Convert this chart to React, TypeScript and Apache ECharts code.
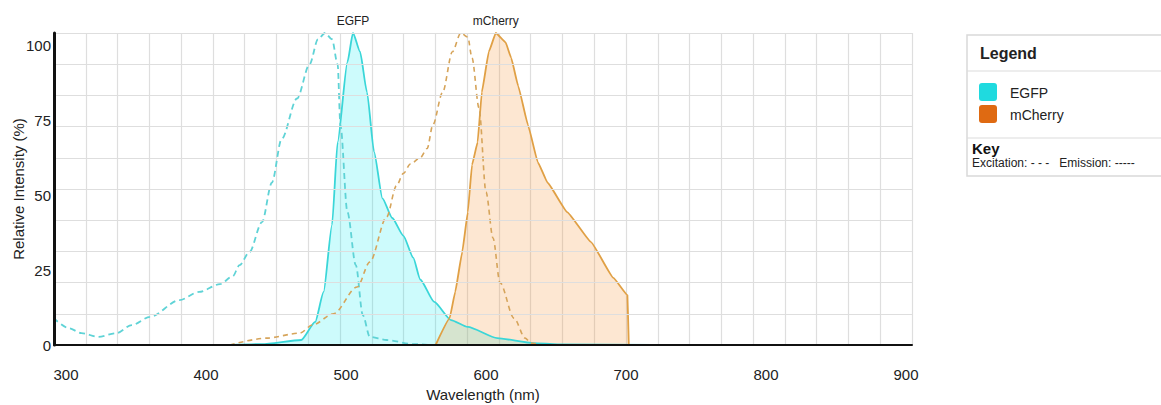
import React, { useEffect, useRef } from "react";
import * as echarts from "echarts";

// EGFP excitation (dashed)
const egfpExWl = [291, 302, 311, 323, 336, 347, 360, 381, 395, 410, 419, 424, 431, 440, 447, 454, 465, 474, 480, 485, 490, 494, 496, 501, 507, 512, 517, 529, 548, 560];
const egfpExVal = [8.7, 5.4, 3.8, 2.6, 3.8, 6.4, 9, 14.4, 17, 19.5, 22, 25.6, 29.8, 39.4, 52, 66, 79, 90, 98, 100, 98, 90, 70.5, 42.6, 25.6, 9.6, 2.6, 1.6, 0.3, 0];

// EGFP emission (solid, filled)
const egfpEmWl = [417, 440, 468, 478, 484, 490, 494, 501, 505, 510, 515, 520, 526, 533, 541, 548, 553, 563, 575, 587, 608, 634, 651, 720];
const egfpEmVal = [0, 0.3, 1.6, 7.4, 17, 38.5, 65, 90.7, 100, 94, 81, 62, 47, 40.7, 35, 28, 21, 13.8, 8, 5.8, 2.2, 0.6, 0.2, 0];

// mCherry excitation (dashed)
const mchExWl = [417, 443, 467, 476, 491, 508, 517, 529, 536, 541, 546, 553, 558, 562, 569, 576, 582, 587, 590, 595, 600, 605, 610, 620, 628, 632, 640];
const mchExVal = [0, 2.2, 3.8, 6.4, 10, 18.6, 26.6, 41, 51, 55, 58, 60, 63, 70.5, 81, 94, 100, 98.7, 92, 76, 49, 34.3, 20, 8.6, 2.2, 0.6, 0];

// mCherry emission (solid, filled)
const mchEmWl = [564, 574, 578, 583, 587, 590, 594, 597, 602, 607, 614, 618, 623, 630, 637, 644, 658, 675, 691, 701, 702];
const mchEmVal = [0, 8.6, 17, 29.8, 42.6, 57.7, 65, 81, 94, 100, 97, 92, 83, 70.5, 58.6, 52, 42.6, 33, 21.5, 16, 0];

const yTickLabels = [0, 25, 50, 75, 100];
const xTickLabels = [300, 400, 500, 600, 700, 800, 900];
const legendItems = ["EGFP", "mCherry"];

const zip = (a: number[], b: number[]) => a.map((x, i) => [x, b[i]]);

const FONT = "'Liberation Sans', Arial, sans-serif";

export default function App() {
  const ref = useRef<HTMLDivElement>(null);

  useEffect(() => {
    document.body.style.margin = "0";
    if (!ref.current) return;
    const chart = echarts.init(ref.current, undefined, { renderer: "svg" });

    const peakLabel = (name: string) => ({
      symbol: "circle",
      symbolSize: 1,
      itemStyle: { color: "rgba(0,0,0,0)" },
      label: {
        show: true,
        position: "top",
        distance: 6,
        formatter: name,
        color: "#222",
        fontSize: 12,
        fontFamily: FONT,
      },
      data: [{ type: "max" }],
    });

    chart.setOption({
      animation: false,
      textStyle: { fontFamily: FONT },
      grid: {
        left: 54,
        right: 249,
        top: 33,
        bottom: 60,
        containLabel: false,
        outerBoundsMode: "none",
      },
      xAxis: [
        {
          type: "value",
          min: 291.4,
          max: 904.3,
          axisLine: { show: true, lineStyle: { color: "#111", width: 2 } },
          axisTick: { show: false },
          splitLine: { show: false },
          axisLabel: {
            margin: 22,
            fontSize: 15,
            color: "#222",
            fontFamily: FONT,
            formatter: (v: number) => (xTickLabels.includes(v) ? String(v) : ""),
          },
          name: "Wavelength (nm)",
          nameLocation: "middle",
          nameGap: 42,
          nameMoveOverlap: false,
          nameTextStyle: { fontSize: 15, color: "#222", fontFamily: FONT },
          z: 5,
        },
        {
          type: "value",
          position: "top",
          min: 0,
          max: 27,
          interval: 1,
          axisLine: { show: false },
          axisTick: { show: false },
          axisLabel: { show: false },
          splitLine: { show: true, lineStyle: { color: "#dedede", width: 1.2 } },
        },
      ],
      yAxis: [
        {
          type: "value",
          min: 0,
          max: 100,
          interval: 10,
          axisLine: { show: true, lineStyle: { color: "#111", width: 3 } },
          axisTick: { show: false },
          axisLabel: { show: false },
          splitLine: { show: true, lineStyle: { color: "#dedede", width: 1.2 } },
          z: 5,
        },
        {
          type: "value",
          position: "left",
          min: 0,
          max: 104,
          interval: 25,
          axisLine: { show: false },
          axisTick: { show: false },
          splitLine: { show: false },
          axisLabel: {
            margin: 3,
            fontSize: 15,
            color: "#222",
            fontFamily: FONT,
            formatter: (v: number) => (yTickLabels.includes(v) ? String(v) : ""),
          },
          name: "Relative Intensity (%)",
          nameLocation: "middle",
          nameGap: 28,
          nameMoveOverlap: false,
          nameTextStyle: { fontSize: 15, color: "#222", fontFamily: FONT },
        },
      ],
      series: [
        {
          name: "EGFP excitation",
          type: "line",
          data: zip(egfpExWl, egfpExVal),
          showSymbol: false,
          smooth: 0.3,
          smoothMonotone: "x",
          lineStyle: { color: "#5fd3d6", width: 1.8, type: [6, 4] },
          z: 3,
        },
        {
          name: "mCherry excitation",
          type: "line",
          data: zip(mchExWl, mchExVal),
          showSymbol: false,
          smooth: 0.3,
          smoothMonotone: "x",
          lineStyle: { color: "#d6a45a", width: 1.6, type: [5, 4] },
          z: 3,
        },
        {
          name: "EGFP",
          type: "line",
          data: zip(egfpEmWl, egfpEmVal),
          showSymbol: false,
          smooth: 0.2,
          smoothMonotone: "x",
          lineStyle: { color: "#3ad6d8", width: 1.8 },
          areaStyle: { color: "rgba(0, 235, 238, 0.28)" },
          markPoint: peakLabel("EGFP"),
          z: 2,
        },
        {
          name: "mCherry",
          type: "line",
          data: zip(mchEmWl, mchEmVal),
          showSymbol: false,
          smooth: 0.1,
          smoothMonotone: "x",
          lineStyle: { color: "#e0a045", width: 1.8 },
          areaStyle: { color: "rgba(245, 150, 60, 0.33)" },
          markPoint: peakLabel("mCherry"),
          z: 2,
        },
      ],
      graphic: [
        {
          type: "rect",
          shape: { x: 967, y: 35, width: 200, height: 141 },
          style: { fill: "#fff", stroke: "#d9d9d9", lineWidth: 1.5 },
        },
        { type: "line", shape: { x1: 967, y1: 71, x2: 1161, y2: 71 }, style: { stroke: "#dcdcdc", lineWidth: 1.2 } },
        { type: "line", shape: { x1: 967, y1: 138, x2: 1161, y2: 138 }, style: { stroke: "#dcdcdc", lineWidth: 1.2 } },
        {
          type: "text",
          x: 980,
          y: 53,
          style: { text: "Legend", font: `bold 16px ${FONT}`, fill: "#222", verticalAlign: "middle" },
        },
        {
          type: "rect",
          shape: { x: 979, y: 83, width: 18, height: 18, r: 3 },
          style: { fill: "#1fdadf" },
        },
        {
          type: "rect",
          shape: { x: 979, y: 105, width: 18, height: 18, r: 3 },
          style: { fill: "#df6a12" },
        },
        {
          type: "text",
          x: 1010,
          y: 93,
          style: { text: legendItems[0], font: `14px ${FONT}`, fill: "#222", verticalAlign: "middle" },
        },
        {
          type: "text",
          x: 1010,
          y: 115,
          style: { text: legendItems[1], font: `14px ${FONT}`, fill: "#222", verticalAlign: "middle" },
        },
        {
          type: "text",
          x: 972,
          y: 148,
          style: { text: "Key", font: `bold 15px ${FONT}`, fill: "#111", verticalAlign: "middle" },
        },
        {
          type: "text",
          x: 972,
          y: 163,
          style: {
            text: "Excitation: - - -   Emission: -----",
            font: `12px ${FONT}`,
            fill: "#222",
            verticalAlign: "middle",
          },
        },
      ],
    });

    return () => chart.dispose();
  }, []);

  return <div ref={ref} style={{ width: 1161, height: 405 }} />;
}
